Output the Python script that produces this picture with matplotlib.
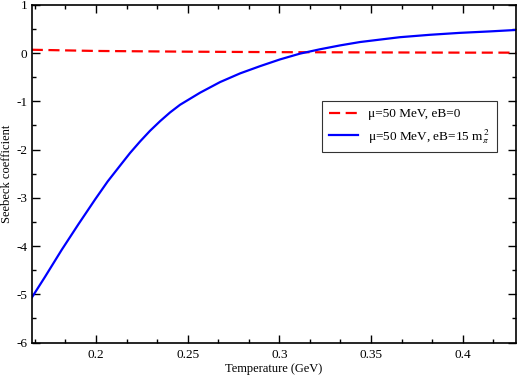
import matplotlib
matplotlib.use("Agg")
import matplotlib.pyplot as plt
from matplotlib.ticker import MultipleLocator

plt.rcParams['font.family'] = ['Liberation Serif', 'DejaVu Serif']
plt.rcParams['mathtext.fontset'] = 'stix'
plt.rcParams['axes.unicode_minus'] = False

# ---- data ----
temp_eb15 = [0.1650, 0.1722, 0.1813, 0.1904, 0.1996, 0.2064, 0.2132, 0.2186,
             0.2241, 0.2295, 0.2350, 0.2404, 0.2459, 0.2568, 0.2677, 0.2786,
             0.2895, 0.3004, 0.3113, 0.3222, 0.3331, 0.3440, 0.3548, 0.3657,
             0.3821, 0.3984, 0.4147, 0.4290]
seebeck_eb15 = [-5.07, -4.64, -4.08, -3.55, -3.03, -2.66, -2.33, -2.07,
                -1.83, -1.61, -1.41, -1.23, -1.07, -0.82, -0.60, -0.42,
                -0.27, -0.13, -0.01, 0.08, 0.16, 0.23, 0.28, 0.33,
                0.38, 0.42, 0.45, 0.48]

temp_eb0 = [0.1650, 0.20, 0.25, 0.30, 0.35, 0.40, 0.4290]
seebeck_eb0 = [0.07, 0.045, 0.03, 0.02, 0.015, 0.01, 0.01]

label_eb0 = 'μ=50 MeV, eB=0'
label_eb15 = r'μ=50 MeV, eB=15 m${}_{\pi}^{\,2}$'

fig = plt.figure(figsize=(5.18, 3.76), dpi=100)
ax = fig.add_axes([0.062, 0.089, 0.934, 0.898])

ax.plot(temp_eb0, seebeck_eb0, color='red', linestyle=(0, (5, 2.5)), linewidth=1.6, label=label_eb0)
ax.plot(temp_eb15, seebeck_eb15, color='blue', linewidth=1.6, label=label_eb15)

ax.set_xlim(0.1652, 0.4290)
ax.set_ylim(-6, 1)
ax.xaxis.set_major_locator(MultipleLocator(0.05))
ax.xaxis.set_minor_locator(MultipleLocator(0.05 / 3))
ax.yaxis.set_major_locator(MultipleLocator(1))
ax.yaxis.set_minor_locator(MultipleLocator(0.5))
ax.xaxis.set_major_formatter(plt.FuncFormatter(lambda v, p: f'{v:g}'))
ax.tick_params(which='both', direction='in', top=True, right=True, labelsize=9.5, width=1)
ax.tick_params(which='major', length=6)
ax.tick_params(which='minor', length=3)
ax.tick_params(axis='x', pad=5)
for s in ax.spines.values():
    s.set_linewidth(1.2)

ax.set_xlabel('Temperature (GeV)', fontsize=9, labelpad=1)
ax.set_ylabel('Seebeck coefficient', fontsize=9, labelpad=2)

leg = ax.legend(loc='upper left', bbox_to_anchor=(0.599, 0.714), borderaxespad=0, fontsize=9.5,
                frameon=True, fancybox=False, edgecolor='black', handlelength=2.2,
                borderpad=0.5, labelspacing=0.5)
leg.get_frame().set_linewidth(0.8)

fig.savefig('out.png', dpi=100)
